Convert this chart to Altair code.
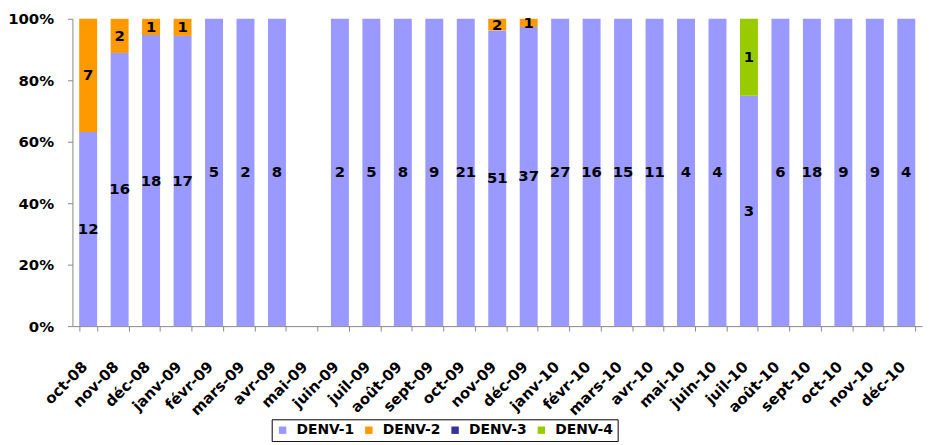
import altair as alt
import pandas as pd

months = ["oct-08", "nov-08", "déc-08", "janv-09", "févr-09", "mars-09", "avr-09",
          "mai-09", "juin-09", "juil-09", "août-09", "sept-09", "oct-09", "nov-09",
          "déc-09", "janv-10", "févr-10", "mars-10", "avr-10", "mai-10", "juin-10",
          "juil-10", "août-10", "sept-10", "oct-10", "nov-10", "déc-10"]
series = ["DENV-1", "DENV-2", "DENV-3", "DENV-4"]
colors = ["#9999FF", "#FF9900", "#333399", "#99CC00"]

denv1 = [12, 16, 18, 17, 5, 2, 8, 0, 2, 5, 8, 9, 21, 51, 37, 27, 16, 15, 11, 4, 4, 3, 6, 18, 9, 9, 4]
denv2 = [7, 2, 1, 1, 0, 0, 0, 0, 0, 0, 0, 0, 0, 2, 1, 0, 0, 0, 0, 0, 0, 0, 0, 0, 0, 0, 0]
denv3 = [0, 0, 0, 0, 0, 0, 0, 0, 0, 0, 0, 0, 0, 0, 0, 0, 0, 0, 0, 0, 0, 0, 0, 0, 0, 0, 0]
denv4 = [0, 0, 0, 0, 0, 0, 0, 0, 0, 0, 0, 0, 0, 0, 0, 0, 0, 0, 0, 0, 0, 1, 0, 0, 0, 0, 0]

rows = []
for k, (name, vals) in enumerate(zip(series, [denv1, denv2, denv3, denv4])):
    for m, v in zip(months, vals):
        rows.append({"month": m, "serotype": name, "order": k, "value": v})
df = pd.DataFrame(rows)

FONT = "DejaVu Sans"
GRAY = "#888888"

base = (
    alt.Chart(df)
    .transform_filter("datum.value > 0")
    .transform_stack(
        stack="value",
        groupby=["month"],
        as_=["y0", "y1"],
        offset="normalize",
        sort=[alt.SortField("order", order="ascending")],
    )
    .transform_calculate(mid="(datum.y0 + datum.y1) / 2")
)

xenc = alt.X(
    "month:N",
    scale=alt.Scale(domain=months, paddingInner=0.43, paddingOuter=0.215),
    axis=alt.Axis(
        title=None,
        labelAngle=-45,
        labelAlign="right",
        labelBaseline="middle",
        labelFont=FONT,
        labelFontWeight="bold",
        labelFontSize=15,
        labelColor="black",
        labelPadding=33,
        labelOffset=-4,
        labelOverlap=False,
        tickBand="extent",
        tickSize=5,
        tickColor=GRAY,
        domainColor=GRAY,
    ),
)

bars = base.mark_bar().encode(
    x=xenc,
    y=alt.Y(
        "y0:Q",
        scale=alt.Scale(domain=[0, 1]),
        axis=alt.Axis(
            title=None,
            format=".0%",
            values=[0, 0.2, 0.4, 0.6, 0.8, 1.0],
            grid=False,
            labelFont=FONT,
            labelFontWeight="bold",
            labelFontSize=15,
            labelColor="black",
            labelPadding=14,
            tickSize=5,
            tickColor=GRAY,
            domainColor=GRAY,
        ),
    ),
    y2="y1:Q",
    color=alt.Color(
        "serotype:N",
        scale=alt.Scale(domain=series, range=colors),
        legend=alt.Legend(
            title=None,
            orient="none",
            legendX=201,
            legendY=404,
            direction="horizontal",
            columns=4,
            symbolType="square",
            symbolSize=56,
            symbolStrokeWidth=0,
            labelFont=FONT,
            labelFontWeight="bold",
            labelFontSize=14,
            labelColor="black",
            labelOffset=7,
            columnPadding=7,
            padding=4,
            strokeColor="black",
        ),
    ),
)

text = base.mark_text(
    font=FONT, fontWeight="bold", fontSize=15, color="black"
).encode(
    x=alt.X("month:N"),
    y=alt.Y("mid:Q"),
    text=alt.Text("value:Q"),
)

chart = (
    alt.layer(bars, text)
    .properties(
        width=857,
        height=310,
        autosize=alt.AutoSizeParams(type="none"),
        padding={"left": 65, "top": 9, "right": 2, "bottom": 115},
    )
    .configure_view(stroke=None)
)

chart.save("out.html", embed_options={"renderer": "svg", "actions": False})
